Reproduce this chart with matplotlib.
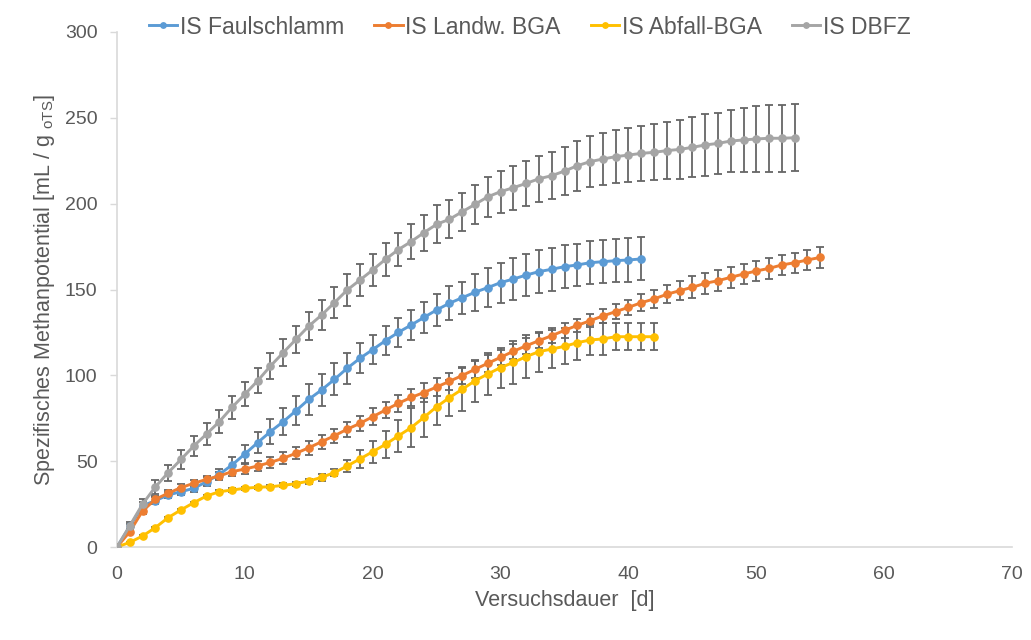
import matplotlib
matplotlib.use("Agg")
import matplotlib.pyplot as plt
import numpy as np

plt.rcParams['font.family'] = ['Liberation Sans', 'DejaVu Sans']
plt.rcParams['mathtext.fontset'] = 'custom'
plt.rcParams['mathtext.rm'] = 'Liberation Sans'
plt.rcParams['mathtext.it'] = 'Liberation Sans:italic'

# ---------------- data ----------------
labels = ["IS Faulschlamm", "IS Landw. BGA", "IS Abfall-BGA", "IS DBFZ"]
colors = ["#5B9BD5", "#ED7D31", "#FFC000", "#A5A5A5"]

faul_y = [0, 12, 24, 27, 30.3, 32.2, 34.2, 38, 42.3, 47.8, 54.2, 60.8, 67.2, 73,
          79.4, 86, 91.5, 97.6, 104.1, 109.9, 115, 120.2, 125, 129.3, 133.7,
          138.1, 142, 145.2, 148.4, 151.1, 154, 156.1, 158.4, 160.4, 161.8,
          163.3, 164.3, 165.6, 166.2, 166.8, 167.2, 167.8]
faul_err = [0, 1.5, 2, 2, 2, 2, 2, 2.5, 3, 4.7, 5.3, 6, 7.2, 7.8, 8.4, 9, 9.3,
            9.3, 9, 8.8, 8.6, 8.6, 8.4, 8.8, 9.0, 9.3, 9.9, 9.3, 10.7, 11.4,
            11.7, 12.1, 12.3, 12.4, 12.5, 12.6, 12.4, 12.6, 12.4, 12.6, 12.8, 12.5]

landw_y = [0, 8.9, 21, 27.8, 31.3, 34.6, 37.1, 39.4, 41.4, 43.9, 45.4, 47.2,
           49.3, 51.7, 54.6, 57.8, 61.3, 64.8, 68.6, 72, 75.9, 79.8, 83.7, 87.1,
           90, 93.2, 96.5, 99.9, 103.5, 107, 110.5, 114, 117.2, 120.2, 123.1,
           126.2, 129.1, 131.8, 134.6, 137.1, 139.6, 142.3, 144.5, 147.2, 149.3,
           151.3, 153.6, 155.1, 157.1, 159, 160.8, 162.3, 164.3, 165.6, 167.2, 168.7]
landw_err = [0, 1, 1.5, 2, 2, 2, 2, 2, 2, 2.5, 3, 3, 3, 3.5, 3.5, 4, 4, 4, 4.5,
             4.5, 4.9, 4.9, 5, 5, 5.3, 5.2, 5, 5, 5, 4.8, 4.5, 4.5, 4.5, 4.4,
             4.3, 4.2, 4, 3.8, 4, 4.2, 4.5, 4.8, 5, 5.2, 5.5, 6.3, 6, 6, 6, 6,
             6, 6, 6, 5.9, 5.9, 5.9]

abfall_y = [0, 2.7, 6.4, 11.3, 17.1, 21.6, 25.8, 29.7, 32.2, 33.2, 34.2, 34.8,
            35.1, 35.9, 36.9, 38.4, 40.6, 43.3, 47.2, 51.3, 55.5, 59.8, 64.7,
            69.5, 75.5, 81.7, 87, 91.9, 96.8, 100.8, 104.5, 107.5, 110.9, 113.8,
            115.3, 116.9, 119, 120.6, 121.2, 122.5, 122.5, 122.5, 122.5]
abfall_err = [0, 0.5, 0.5, 0.5, 0.5, 0.5, 0.5, 0.5, 0.8, 1, 1, 1, 1, 1.2, 1.2,
              1.5, 2, 2, 3.3, 5, 6.5, 7.8, 9.5, 11.5, 11.5, 10.9, 10.5, 12.6,
              12.1, 12, 11.7, 12.6, 12.6, 11.7, 11.2, 10.5, 10, 8.8, 9.2, 8, 8, 8, 8]

dbfz_y = [0, 12.4, 25, 35, 43.3, 51, 58.8, 65.8, 73, 81.4, 89, 96.8, 105.4,
          113.2, 121, 128.7, 135.1, 142.3, 149.7, 155.5, 161.4, 167.6, 173.2,
          177.9, 183.1, 188, 190.9, 195.3, 199.6, 204, 207, 209.3, 211.8, 214.5,
          216.3, 219, 222.1, 224.5, 226, 227.4, 228.3, 229.3, 229.9, 230.9,
          231.6, 232.8, 234.2, 235.1, 236.5, 237.1, 237.7, 238.1, 238.1, 238.4]
dbfz_err = [0, 2, 3, 4, 4.7, 5.3, 5.9, 6.4, 6.6, 6.8, 7, 7.2, 7.4, 7.7, 8, 8.3,
            8.6, 8.9, 9.1, 9.3, 9.4, 9.5, 9.7, 10.3, 10.4, 11, 11, 11.2, 11.5,
            11.7, 12.2, 12.8, 13.2, 13.4, 13.8, 14.2, 14.6, 14.8, 15, 15.5,
            15.7, 16, 16.3, 16.6, 17, 17.4, 17.8, 17.7, 18.3, 18.4, 19.4, 19.5,
            19.5, 19.5]

series_y = [faul_y, landw_y, abfall_y, dbfz_y]
series_err = [faul_err, landw_err, abfall_err, dbfz_err]

x_ticks = [0, 10, 20, 30, 40, 50, 60, 70]
y_ticks = [0, 50, 100, 150, 200, 250, 300]

# ---------------- figure ----------------
W, H = 1031, 640
fig = plt.figure(figsize=(W / 100, H / 100), dpi=100)
ax = fig.add_axes([117 / W, 1 - 547 / H, (1012 - 117) / W, (547 - 32) / H])

txt = "#595959"
handles = []
for ys, es, c, lab in zip(series_y, series_err, colors, labels):
    days = np.arange(len(ys))
    cont = ax.errorbar(days, ys, yerr=es, color=c, lw=2.1, marker='o',
                       markersize=5.2, ecolor="#666666", elinewidth=1.3,
                       capsize=2.6, capthick=1.3, label=lab, zorder=3)
    handles.append(cont.lines[0])

ax.set_xlim(0, 70)
ax.set_ylim(0, 300)
ax.set_xticks(x_ticks)
ax.set_yticks(y_ticks)
ax.tick_params(axis='x', length=0, pad=14, labelsize=14, labelcolor=txt)
ax.tick_params(axis='y', length=5, width=1, color="#D9D9D9", pad=9,
               labelsize=14, labelcolor=txt)
for s in ['top', 'right']:
    ax.spines[s].set_visible(False)
for s in ['left', 'bottom']:
    ax.spines[s].set_color("#D9D9D9")
    ax.spines[s].set_linewidth(1.2)
ax.patch.set_alpha(0)

ax.set_xlabel("Versuchsdauer  [d]", fontsize=15.5, color=txt, labelpad=5)
ax.set_ylabel(r"Spezifisches Methanpotential [mL / g $_{\mathrm{oTS}}$]",
              fontsize=15.5, color=txt, labelpad=6)

leg = fig.legend(handles, labels, loc='center left',
                 bbox_to_anchor=(128 / W, 1 - 27 / H), ncol=4, frameon=False,
                 fontsize=16.5, handlelength=1.25, handletextpad=0.12,
                 columnspacing=1.3, labelcolor=txt, markerscale=0.75)

fig.savefig("out.png", dpi=100)
